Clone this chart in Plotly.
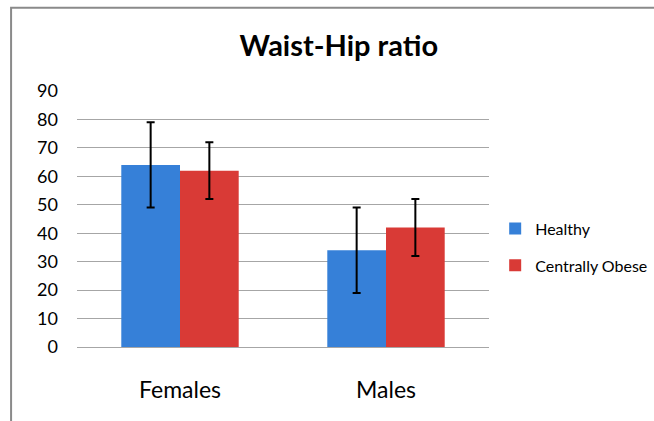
import plotly.graph_objects as go

categories = ["Females", "Males"]
healthy = [64, 34]
healthy_err = [15, 15]
obese = [62, 42]
obese_err = [10, 10]

font = "Lato, Open Sans, sans-serif"

fig = go.Figure()
fig.add_trace(go.Bar(x=categories, y=healthy, name="Healthy", legendgroup="a",
                     marker=dict(color="#3680D8", line=dict(width=0)),
                     error_y=dict(type="data", array=healthy_err, color="black",
                                  thickness=2, width=4)))
fig.add_trace(go.Bar(x=categories, y=obese, name="Centrally Obese", legendgroup="b",
                     marker=dict(color="#D93A36", line=dict(width=0)),
                     error_y=dict(type="data", array=obese_err, color="black",
                                  thickness=2, width=4)))

# chart-area frame (runs off the right and bottom)
fig.add_shape(type="rect", xref="paper", yref="paper",
              x0=-0.160, x1=1.45, y0=-0.35, y1=1.325,
              line=dict(color="#8a8a8a", width=2))

fig.update_layout(
    width=654, height=421,
    margin=dict(l=77, r=165, t=91, b=74, autoexpand=False),
    paper_bgcolor="white", plot_bgcolor="white",
    barmode="group", bargap=0.43, bargroupgap=0,
    font=dict(family=font, color="black"),
    title=dict(text="<b>Waist-Hip ratio</b>", font=dict(size=29),
               x=0.518, xanchor="center", y=0.89, yanchor="middle"),
    legend=dict(x=1.015, y=0.39, yanchor="middle", xanchor="left",
                font=dict(size=16), tracegroupgap=13, itemwidth=30,
                bgcolor="rgba(0,0,0,0)"),
    showlegend=True,
)
fig.update_yaxes(range=[0, 90], dtick=10, showgrid=True, gridcolor="#a6a6a6",
                 gridwidth=1, zeroline=False, showline=False, automargin=False,
                 tickfont=dict(size=18), ticklabelstandoff=18)
fig.update_xaxes(showline=True, linecolor="#a6a6a6", linewidth=1, automargin=False,
                 tickfont=dict(size=23), ticklabelstandoff=22)

fig.write_html("out.html", config={"displayModeBar": False},
               post_script="document.body.style.margin='0';")
